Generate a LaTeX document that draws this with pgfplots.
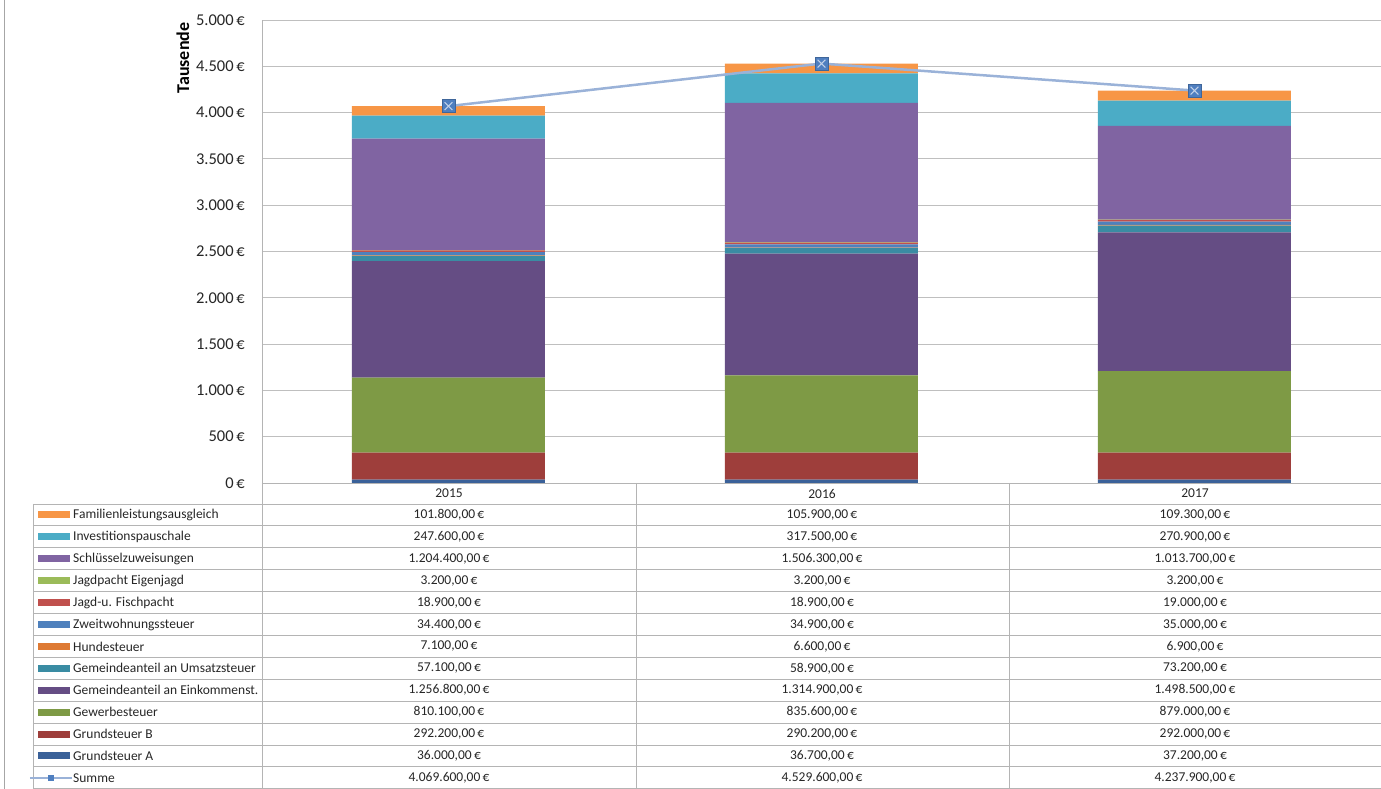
\documentclass[border=0pt]{standalone}
\usepackage{pgfplots}
\pgfplotsset{compat=1.18}
\usepackage{fontspec}
\setmainfont{Carlito}

\definecolor{cGA}{HTML}{3A6199}
\definecolor{cGB}{HTML}{9E3E3B}
\definecolor{cGew}{HTML}{7E9A45}
\definecolor{cEink}{HTML}{654D84}
\definecolor{cUms}{HTML}{3A8CA3}
\definecolor{cHund}{HTML}{DE7A34}
\definecolor{cZweit}{HTML}{4F81BD}
\definecolor{cFisch}{HTML}{C0504D}
\definecolor{cJagd}{HTML}{9BBB59}
\definecolor{cSchl}{HTML}{8064A2}
\definecolor{cInv}{HTML}{4BACC6}
\definecolor{cFam}{HTML}{F79646}
\definecolor{cSumLine}{HTML}{9AB2D8}
\definecolor{cSumMark}{HTML}{4F7FC0}
\definecolor{cLine}{HTML}{B4B4B4}

\newcommand\tfont{\fontsize{13.5}{16}\selectfont}
% one row of the data table: index, colour, name, 2015, 2016, 2017
\newcommand\trow[6]{%
  \pgfmathsetmacro\yy{515+21.9*#1}
  \fill[#2] (38,{\yy-3.5}) rectangle (70,{\yy+3.5});
  \node[anchor=west, inner sep=0pt, font=\tfont, text=black!85] at (73,\yy) {#3};
  \node[inner sep=0pt, font=\tfont, text=black!85] at (449,\yy) {#4\,€};
  \node[inner sep=0pt, font=\tfont, text=black!85] at (822,\yy) {#5\,€};
  \node[inner sep=0pt, font=\tfont, text=black!85] at (1195,\yy) {#6\,€};
}

\begin{document}
\begin{tikzpicture}
\pgfplotsset{
  base/.style={scale only axis, width=1119pt, height=463pt,
    xmin=-0.5, xmax=2.5, ymin=0, ymax=5000},
}
\begin{axis}[base, name=ax,
  ybar stacked, bar width=193pt,
  axis x line*=bottom, axis y line*=left,
  axis line style={cLine, line width=0.8pt},
  ymajorgrids, grid style={cLine!85, line width=0.8pt},
  major tick length=0pt,
  xtick=\empty,
  ytick={0,500,...,5000},
  yticklabels={0\,€,500\,€,1.000\,€,1.500\,€,2.000\,€,2.500\,€,3.000\,€,3.500\,€,4.000\,€,4.500\,€,5.000\,€},
  yticklabel style={font=\fontsize{16.5}{18}\selectfont, text=black!85, anchor=east, inner sep=0pt, xshift=-17pt},
  every axis plot/.append style={draw=none},
]
\addplot[fill=cGA] coordinates {(0,36.0) (1,36.7) (2,37.2)};
\addplot[fill=cGB] coordinates {(0,292.2) (1,290.2) (2,292.0)};
\addplot[fill=cGew] coordinates {(0,810.1) (1,835.6) (2,879.0)};
\addplot[fill=cEink] coordinates {(0,1256.8) (1,1314.9) (2,1498.5)};
\addplot[fill=cUms] coordinates {(0,57.1) (1,58.9) (2,73.2)};
\addplot[fill=cHund] coordinates {(0,7.1) (1,6.6) (2,6.9)};
\addplot[fill=cZweit] coordinates {(0,34.4) (1,34.9) (2,35.0)};
\addplot[fill=cFisch] coordinates {(0,18.9) (1,18.9) (2,19.0)};
\addplot[fill=cJagd] coordinates {(0,3.2) (1,3.2) (2,3.2)};
\addplot[fill=cSchl] coordinates {(0,1204.4) (1,1506.3) (2,1013.7)};
\addplot[fill=cInv] coordinates {(0,247.6) (1,317.5) (2,270.9)};
\addplot[fill=cFam] coordinates {(0,101.8) (1,105.9) (2,109.3)};
\end{axis}

% Summe line on its own axis so it is not stacked
\begin{axis}[base, hide axis]
\addplot[cSumLine, line width=2.5pt, mark=square*, mark size=6.5pt,
  mark options={fill=cSumMark, draw=cSumMark!80!black, line width=0.5pt}]
  coordinates {(0,4069.6) (1,4529.6) (2,4237.9)};
\addplot[only marks, mark=x, mark size=5.5pt, mark options={draw=cSumLine!60!white, line width=1.1pt}]
  coordinates {(0,4069.6) (1,4529.6) (2,4237.9)};
\end{axis}

\begin{scope}[shift={(ax.south west)}, shift={(-262pt,483pt)}, x=1pt, y=-1pt]
  \foreach \i in {0,...,13}
    \draw[cLine, line width=0.8pt] (33,{504+21.9*\i}) -- (1381,{504+21.9*\i});
  \draw[cLine, line width=0.8pt] (33,504) -- (33,789);
  \draw[cLine, line width=0.8pt] (262,483) -- (262,789);
  \draw[cLine, line width=0.8pt] (636,483) -- (636,789);
  \draw[cLine, line width=0.8pt] (1009,483) -- (1009,789);
  \draw[gray!70, line width=1pt] (4.5,0) -- (4.5,789);
  \node[rotate=90, inner sep=0pt, font=\fontsize{18}{20}\selectfont\bfseries] at (183,58) {Tausende};
  \node[inner sep=0pt, font=\tfont, text=black!85] at (449,493.5) {2015};
  \node[inner sep=0pt, font=\tfont, text=black!85] at (822,493.5) {2016};
  \node[inner sep=0pt, font=\tfont, text=black!85] at (1195,493.5) {2017};
  \trow{0}{cFam}{Familienleistungsausgleich}{101.800,00}{105.900,00}{109.300,00}
  \trow{1}{cInv}{Investitionspauschale}{247.600,00}{317.500,00}{270.900,00}
  \trow{2}{cSchl}{Schlüsselzuweisungen}{1.204.400,00}{1.506.300,00}{1.013.700,00}
  \trow{3}{cJagd}{Jagdpacht Eigenjagd}{3.200,00}{3.200,00}{3.200,00}
  \trow{4}{cFisch}{Jagd-u. Fischpacht}{18.900,00}{18.900,00}{19.000,00}
  \trow{5}{cZweit}{Zweitwohnungssteuer}{34.400,00}{34.900,00}{35.000,00}
  \trow{6}{cHund}{Hundesteuer}{7.100,00}{6.600,00}{6.900,00}
  \trow{7}{cUms}{Gemeindeanteil an Umsatzsteuer}{57.100,00}{58.900,00}{73.200,00}
  \trow{8}{cEink}{Gemeindeanteil an Einkommenst.}{1.256.800,00}{1.314.900,00}{1.498.500,00}
  \trow{9}{cGew}{Gewerbesteuer}{810.100,00}{835.600,00}{879.000,00}
  \trow{10}{cGB}{Grundsteuer B}{292.200,00}{290.200,00}{292.000,00}
  \trow{11}{cGA}{Grundsteuer A}{36.000,00}{36.700,00}{37.200,00}
  % Summe row: line swatch with a small square marker
  \draw[cSumLine, line width=1.6pt] (30,777.9) -- (72,777.9);
  \fill[cSumMark] (48,774.9) rectangle (54,780.9);
  \node[anchor=west, inner sep=0pt, font=\tfont, text=black!85] at (73,777.9) {Summe};
  \node[inner sep=0pt, font=\tfont, text=black!85] at (449,777.9) {4.069.600,00\,€};
  \node[inner sep=0pt, font=\tfont, text=black!85] at (822,777.9) {4.529.600,00\,€};
  \node[inner sep=0pt, font=\tfont, text=black!85] at (1195,777.9) {4.237.900,00\,€};
  \pgfresetboundingbox
  \path[use as bounding box] (0,0) rectangle (1381,789);
\end{scope}
\end{tikzpicture}
\end{document}
